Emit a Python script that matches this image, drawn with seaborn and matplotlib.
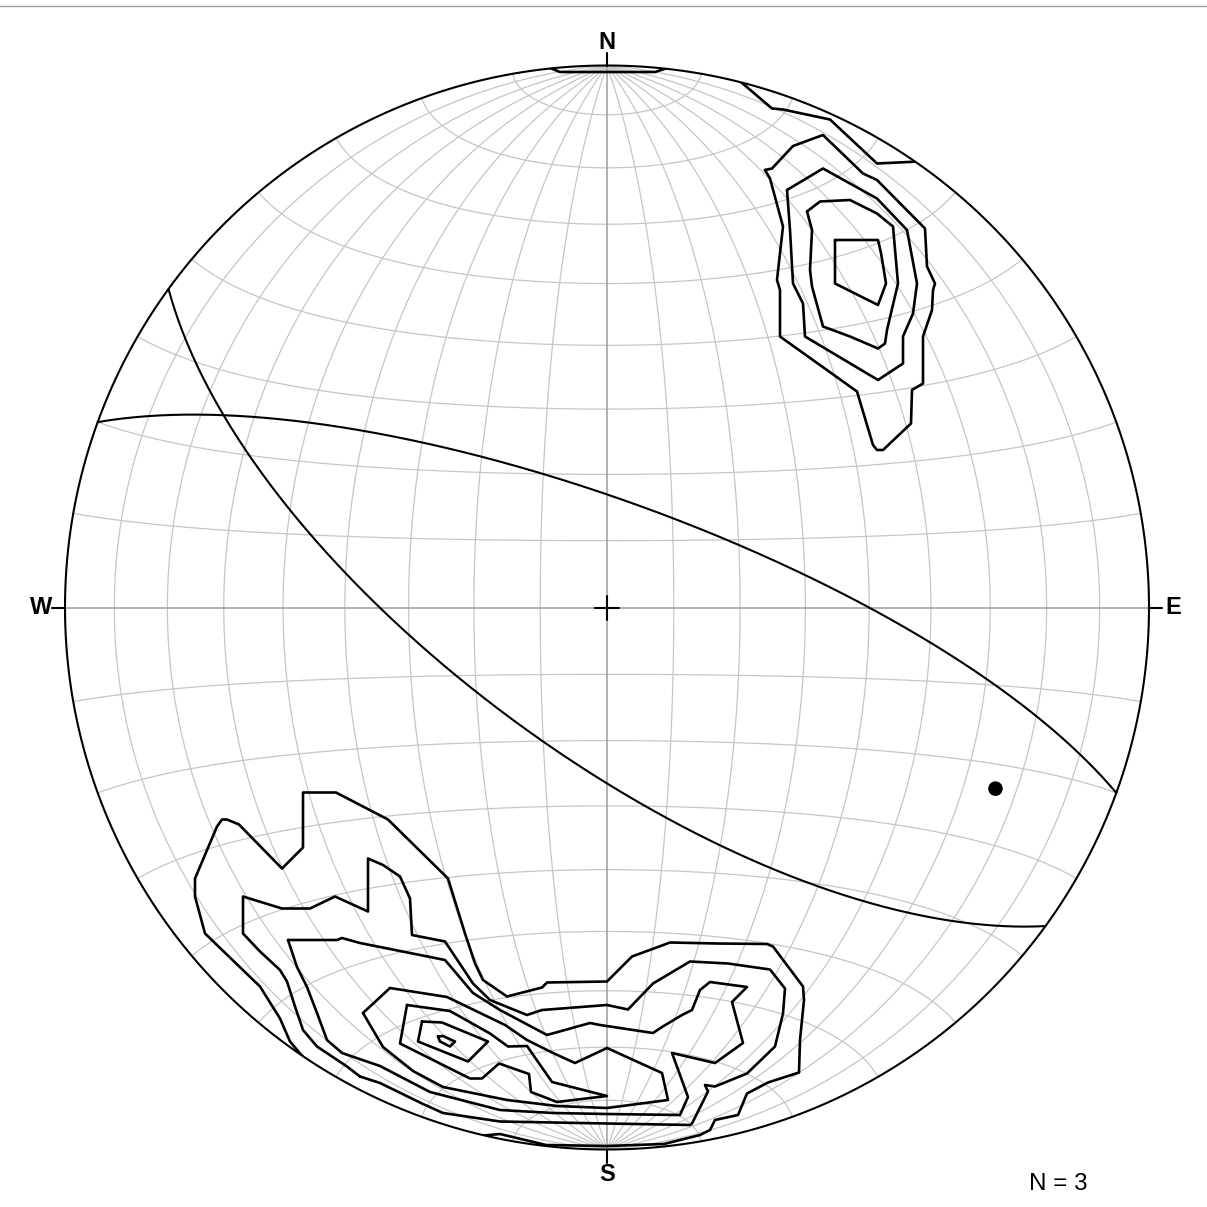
import numpy as np
import matplotlib
matplotlib.use("Agg")
import matplotlib.pyplot as plt
from matplotlib.lines import Line2D
from matplotlib.patches import Circle
import seaborn as sns

# ---------------------------------------------------------------- data
# planes as strike / dip (right-hand rule)
plane_strikes = [126, 290]
plane_dips = [68, 74]
# lineation as trend / plunge
line_trends = [115]
line_plunges = [22]
count_label = "N = 3"
cardinal_labels = ["N", "E", "S", "W"]

# density contours, net units (primitive radius = 542), x east, y north
UNITS = 542.0
ne_open = [(131, 528), (165, 499), (176, 498), (223, 488), (270, 444), (312, 446)]
ne_c1 = [(158, 437.5), (165, 439), (186, 461.5), (216, 472.5), (256, 434), (270, 427.5),
         (318, 379), (320, 341), (328, 324), (326, 317.5), (325, 297.5), (316, 271),
         (316, 224), (305, 217.5), (304, 184), (276, 157.5), (270, 157.5), (266, 162.5),
         (250, 216), (173, 271), (173, 317.5), (170, 327.5), (176, 381), (163, 429),
         (158, 437.5)]
ne_c2 = [(180, 417.5), (216, 439), (270, 409), (300, 377.5), (310, 324), (306, 294),
         (296, 271), (296, 244), (271, 227.5), (198, 271), (196, 304), (186, 324),
         (183, 377.5), (180, 417.5)]
ne_c3 = [(200, 396), (213, 406), (243, 407.5), (270, 394), (286, 381), (291, 324),
         (280, 277.5), (278, 264), (271, 259), (243, 271), (216, 281), (205, 321),
         (203, 337.5), (205, 377.5), (200, 396)]
ne_c4 = [(228, 367.5), (271, 367.5), (274, 354.5), (279, 324), (271, 302.5),
         (228, 324), (228, 367.5)]
n_sliver = [(-58, 540), (-47, 535.5), (48, 535.5), (62, 540)]

s_c1 = [(-296, -459), (-317, -434), (-327, -411), (-347, -379), (-402, -326), (-412, -289),
        (-412, -271), (-390, -219), (-385, -212), (-380, -212), (-368, -217), (-325, -261),
        (-304, -240), (-304, -185), (-271, -185), (-219, -212), (-159, -271), (-142, -326),
        (-132, -356), (-124, -372.5), (-100, -389), (-65, -380), (-60, -375), (0, -374),
        (25, -349), (55, -338), (63, -335), (110, -336), (160, -336.5), (166, -339),
        (196, -379), (197, -392.5), (193, -432.5), (192, -465), (161, -475), (140, -486),
        (131, -507.5), (108, -512.5), (103, -522.5), (93, -527.5), (57, -536.5),
        (0, -538.5), (-61, -537.5), (-107, -526.5), (-134, -529)]
s_c2 = [(-247, -469), (-260, -459), (-290, -439), (-304, -422.5), (-312, -399), (-320, -374),
        (-327, -362.5), (-347, -344), (-364, -326), (-364, -289), (-325, -301), (-297, -301),
        (-272, -289), (-239, -304), (-239, -251), (-224, -257.5), (-207, -269), (-197, -291),
        (-195, -327.5), (-162, -334), (-134, -376), (-117, -392.5), (-80, -407.5),
        (-65, -402.5), (0, -397.5), (21, -402), (46, -376), (83, -354), (121, -356),
        (163, -362), (178, -381), (176, -406), (168, -439), (140, -466), (108, -479),
        (98, -477.5), (101, -484), (85, -516), (83, -517.5), (0, -516), (-54, -515),
        (-107, -514), (-164, -505.5), (-184, -496.5), (-227, -475.5), (-247, -469)]
s_c3 = [(-319, -332.5), (-270, -332.5), (-265, -330.5), (-247, -335.5), (-162, -352.5),
        (-134, -385.5), (-107, -402.5), (-60, -427.5), (-17, -415.5), (-7, -417.5),
        (46, -425.5), (55, -419.5), (75, -407.5), (85, -402.5), (93, -382.5), (103, -374.5),
        (140, -379.5), (125, -394.5), (136, -435.5), (108, -455.5), (65, -445.5),
        (81, -489.5), (73, -507.5), (0, -506.5), (-54, -505.5), (-107, -502.5),
        (-177, -484.5), (-227, -458.5), (-265, -445.5), (-280, -432.5), (-290, -405.5),
        (-300, -379.5), (-310, -359.5), (-319, -332.5)]
s_c4 = [(-244, -405.5), (-217, -380.5), (-160, -389.5), (-102, -417.5), (-80, -432.5),
        (-54, -445.5), (-32, -455.5), (0, -440.5), (55, -465.5), (61, -492.5), (0, -500.5),
        (-50, -498.5), (-100, -492.5), (-164, -479.5), (-194, -463.5), (-224, -439.5),
        (-244, -405.5)]
s_c5 = [(-200, -397.5), (-157, -403.5), (-117, -426), (-99, -439), (-80, -438.5),
        (-55, -474.5), (0, -488.5), (-50, -494.5), (-76, -484.5), (-78, -466.5),
        (-108, -456), (-125, -471), (-137, -471), (-207, -436), (-200, -397.5)]
s_c6 = [(-185, -414), (-165, -415), (-119, -434), (-139, -454), (-189, -434), (-185, -414)]
s_c7 = [(-169, -429), (-164, -428.5), (-152, -434), (-157, -439), (-167, -434), (-169, -429)]

contours = [ne_open, ne_c1, ne_c2, ne_c3, ne_c4, n_sliver,
            s_c1, s_c2, s_c3, s_c4, s_c5, s_c6, s_c7]


# ---------------------------------------------------------------- projection
def net_xy(lon, lat):
    """Equal-area (Schmidt) meridional net coordinates, unit primitive."""
    lon, lat = np.radians(lon), np.radians(lat)
    k = 1.0 / np.sqrt(1.0 + np.cos(lat) * np.cos(lon))
    return k * np.cos(lat) * np.sin(lon), k * np.sin(lat)


def line_xy(trend, plunge):
    t, p = np.radians(trend), np.radians(plunge)
    r = np.sqrt(2.0) * np.sin((np.pi / 2 - p) / 2)
    return r * np.sin(t), r * np.cos(t)


def plane_xy(strike, dip, n=400):
    s, d = np.radians(strike), np.radians(dip)
    dd = s + np.pi / 2
    a = np.linspace(0, np.pi, n)
    east = np.cos(a) * np.sin(s) + np.sin(a) * np.sin(dd) * np.cos(d)
    north = np.cos(a) * np.cos(s) + np.sin(a) * np.cos(dd) * np.cos(d)
    down = np.sin(a) * np.sin(d)
    trend = np.degrees(np.arctan2(east, north))
    plunge = np.degrees(np.arcsin(np.clip(down, -1, 1)))
    return line_xy(trend, plunge)


# ---------------------------------------------------------------- figure
sns.set_theme(style="white")
plt.rcParams["font.family"] = ["Liberation Sans", "DejaVu Sans"]

W = 1207
fig = plt.figure(figsize=(W / 100, W / 100), dpi=100)
ax = fig.add_axes([0, 0, 1, 1])
cx, cy, R = 607.0, 607.5, 542.0
ax.set_xlim(-cx / R, (W - cx) / R)
ax.set_ylim(-(W - cy) / R, cy / R)
ax.set_aspect("equal")
ax.axis("off")

clip = Circle((0, 0), 1.0, transform=ax.transData)

grid_kw = dict(color="#c6c6c6", lw=0.9, zorder=1)
t = np.linspace(-90, 90, 721)
for lon in range(-80, 90, 10):
    if lon == 0:
        continue
    x, y = net_xy(np.full_like(t, lon), t)
    ax.plot(x, y, **grid_kw)[0].set_clip_path(clip)
for lat in range(-80, 90, 10):
    if lat == 0:
        continue
    x, y = net_xy(t, np.full_like(t, lat))
    ax.plot(x, y, **grid_kw)[0].set_clip_path(clip)
ax.plot([-1, 1], [0, 0], color="#9c9c9c", lw=1.1, zorder=1.5)
ax.plot([0, 0], [-1, 1], color="#9c9c9c", lw=1.1, zorder=1.5)

# primitive circle
ang = np.linspace(0, 2 * np.pi, 721)
ax.plot(np.cos(ang), np.sin(ang), color="black", lw=1.5, zorder=5)

# centre cross
c = 12 / R
ax.plot([-c, c], [0, 0], color="black", lw=1.5, zorder=6)
ax.plot([0, 0], [-c, c], color="black", lw=1.5, zorder=6)

# cardinal ticks and labels
tick = 13 / R
for name, (ux, uy), off in zip(cardinal_labels, [(0, 1), (1, 0), (0, -1), (-1, 0)],
                               [23, 24, 25, 24]):
    ax.plot([ux, ux * (1 + tick)], [uy, uy * (1 + tick)], color="black", lw=1.5, zorder=5)
    ax.text(ux * (1 + off / R), uy * (1 + off / R), name, ha="center", va="center",
            fontsize=17, fontweight="bold", color="black")

# density contours
for path in contours:
    arr = np.asarray(path, dtype=float) / UNITS
    sns.lineplot(x=arr[:, 0], y=arr[:, 1], sort=False, estimator=None, color="black",
                 lw=1.9, ax=ax, legend=False, zorder=4)
    ax.lines[-1].set_clip_path(clip)

# great circles
for s_, d_ in zip(plane_strikes, plane_dips):
    x, y = plane_xy(s_, d_)
    sns.lineplot(x=x, y=y, sort=False, estimator=None, color="black", lw=1.5,
                 ax=ax, legend=False, zorder=4)

# lineation
lx, ly = line_xy(np.array(line_trends), np.array(line_plunges))
sns.scatterplot(x=lx, y=ly, color="black", s=110, edgecolor="none", ax=ax, zorder=7,
                legend=False)

ax.text((1058.5 - cx) / R, (cy - 1183.5) / R, count_label, ha="center", va="center",
        fontsize=17.5, color="black")

fig.add_artist(Line2D([0, 1], [1 - 6 / W, 1 - 6 / W], transform=fig.transFigure,
                      color="#9a9a9a", lw=1.0))

fig.savefig("out.png", dpi=100)
